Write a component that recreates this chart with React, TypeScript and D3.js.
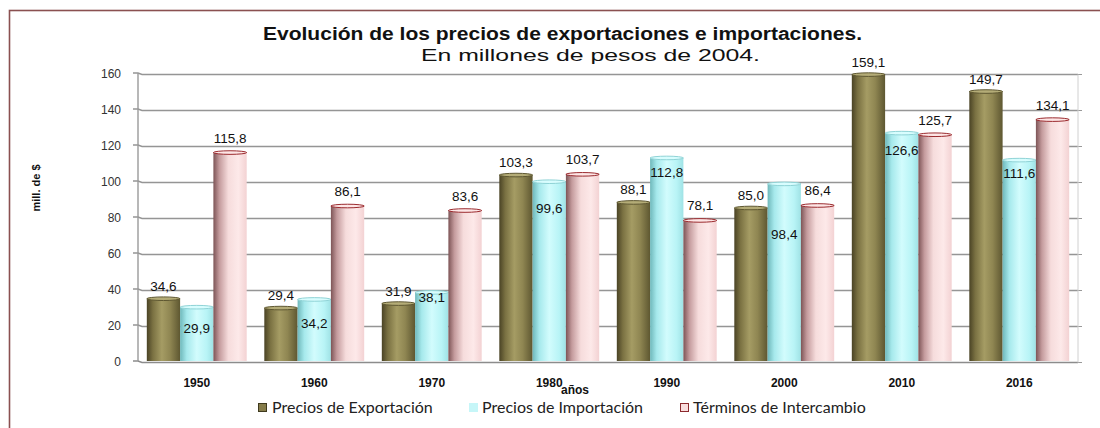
import React from "react";
import * as d3 from "d3";

const years = ["1950", "1960", "1970", "1980", "1990", "2000", "2010", "2016"];
const exportPrices = [34.6, 29.4, 31.9, 103.3, 88.1, 85.0, 159.1, 149.7];
const importPrices = [29.9, 34.2, 38.1, 99.6, 112.8, 98.4, 126.6, 111.6];
const termsOfTrade = [115.8, 86.1, 83.6, 103.7, 78.1, 86.4, 125.7, 134.1];
const yTicks = [0, 20, 40, 60, 80, 100, 120, 140, 160];
const seriesNames = ["Precios de Exportación", "Precios de Importación", "Términos de Intercambio"];

// layout-only: how far below the bar top each import label sits (px)
const importLabelDy = [21, 24, 5, 26, 14, 50, 17, 13];

const W = 1100;
const H = 428;
const left = 138;
const right = 1078;
const top = 73;
const bottom = 361;

const fmt = (v: number) => v.toFixed(1).replace(".", ",");

const grads = [
  { id: "gExp", stops: [["0%", "#4a4325"], ["18%", "#7a7142"], ["45%", "#a59c64"], ["70%", "#8f8652"], ["100%", "#5e5731"]], cap: "#b4ac77", capStroke: "#5e5731" },
  { id: "gImp", stops: [["0%", "#6fb8bb"], ["20%", "#a6e9ec"], ["50%", "#d2fcfd"], ["80%", "#b8f4f6"], ["100%", "#9fe2e5"]], cap: "#d8fdfe", capStroke: "#8fd3d6" },
  { id: "gTer", stops: [["0%", "#7d5456"], ["18%", "#c49b9d"], ["45%", "#f6dcdc"], ["75%", "#fde9e9"], ["100%", "#f3d2d3"]], cap: "#fde6e6", capStroke: "#9b2b2f" },
];

export default function App() {
  const series = [exportPrices, importPrices, termsOfTrade];
  const x0 = d3.scaleBand<string>().domain(years).range([left, right]).paddingInner(0.15).paddingOuter(0.075);
  const x1 = d3.scaleBand<number>().domain([0, 1, 2]).range([0, x0.bandwidth()]).padding(0);
  const y = d3.scaleLinear().domain([0, 160]).range([bottom, top]);
  const bw = x1.bandwidth();

  return (
    <svg width={W} height={H} style={{ position: "absolute", left: 0, top: 0, background: "#fff" }}
      fontFamily="'Liberation Sans', Arial, sans-serif">
      <defs>
        {grads.map((g) => (
          <linearGradient key={g.id} id={g.id} x1="0" x2="1" y1="0" y2="0">
            {g.stops.map(([o, c]) => <stop key={o} offset={o} stopColor={c} />)}
          </linearGradient>
        ))}
      </defs>
      <rect x={0} y={0} width={W} height={H} fill="#fff" />
      <rect x={9.5} y={10.5} width={1300} height={600} fill="none" stroke="#8a5050" strokeWidth={1.6} />

      {/* title */}
      <text x={263} y={40} fontSize={18} fontWeight="bold" fill="#111" textLength={599} lengthAdjust="spacingAndGlyphs">
        Evolución de los precios de exportaciones e importaciones.
      </text>
      <text x={421} y={61} fontSize={17} fill="#111" textLength={339} lengthAdjust="spacingAndGlyphs">
        En millones de pesos de 2004.
      </text>

      {/* grid */}
      {yTicks.map((t) => (
        <g key={t}>
          <path d={`M${left - 5},${y(t)} L${left},${y(t)} L${left + 4},${y(t) + 1.5} L${right},${y(t) + 1.5}`}
            fill="none" stroke={t === 0 ? "#8c8c8c" : "#959595"} strokeWidth={t === 0 ? 1.6 : 1.4} />
          <line x1={right} x2={right + 4} y1={y(t) + 1.5} y2={y(t) + 1.5} stroke="#999" strokeWidth={1} />
          <text x={121} y={y(t) + 4.5} textAnchor="end" fontSize={12} fill="#333">{t}</text>
        </g>
      ))}
      <line x1={left} x2={left} y1={top} y2={bottom} stroke="#9a9a9a" strokeWidth={1.4} />
      <line x1={right} x2={right} y1={top + 1.5} y2={bottom + 1.5} stroke="#d0d0d0" strokeWidth={1} />

      {/* bars */}
      {years.map((yr, i) => (
        <g key={yr} transform={`translate(${x0(yr)},0)`}>
          {series.map((s, k) => {
            const v = s[i];
            const bx = x1(k)!;
            const by = y(v);
            const g = grads[k];
            return (
              <g key={k}>
                <rect x={bx} y={by} width={bw} height={bottom - by} fill={`url(#${g.id})`} />
                <ellipse cx={bx + bw / 2} cy={by} rx={bw / 2} ry={1.8} fill={g.cap} stroke={g.capStroke} strokeWidth={1} />
              </g>
            );
          })}
          <text x={x1(0)! + bw / 2} y={y(exportPrices[i]) - 8} textAnchor="middle" fontSize={13.5} fill="#111">
            {fmt(exportPrices[i])}
          </text>
          <text x={x1(1)! + bw / 2} y={y(importPrices[i]) + importLabelDy[i] + 5} textAnchor="middle" fontSize={13.5} fill="#111">
            {fmt(importPrices[i])}
          </text>
          <text x={x1(2)! + bw / 2} y={y(termsOfTrade[i]) - 10} textAnchor="middle" fontSize={13.5} fill="#111">
            {fmt(termsOfTrade[i])}
          </text>
          <text x={x0.bandwidth() / 2} y={387} textAnchor="middle" fontSize={12} fontWeight="bold" fill="#111">{yr}</text>
        </g>
      ))}

      {/* axis titles */}
      <text x={575} y={394} textAnchor="middle" fontSize={12} fontWeight="bold" fill="#111">años</text>
      <text transform="translate(40,188) rotate(-90)" textAnchor="middle" fontSize={11} fontWeight="bold" fill="#111">mill. de $</text>

      {/* legend */}
      <g fontFamily="Lato, 'Open Sans', sans-serif" fontSize={16} fill="#222">
        <rect x={258.5} y={403.5} width={8} height={8} fill="#857c4a" stroke="#3f3a1e" strokeWidth={1} />
        <text x={272} y={413}>{seriesNames[0]}</text>
        <rect x={469} y={403} width={9} height={9} fill="#c6f6f8" />
        <text x={482} y={413}>{seriesNames[1]}</text>
        <rect x={680.5} y={403.5} width={8} height={8} fill="#f9dede" stroke="#8c2a2e" strokeWidth={1} />
        <text x={693} y={413}>{seriesNames[2]}</text>
      </g>
    </svg>
  );
}
